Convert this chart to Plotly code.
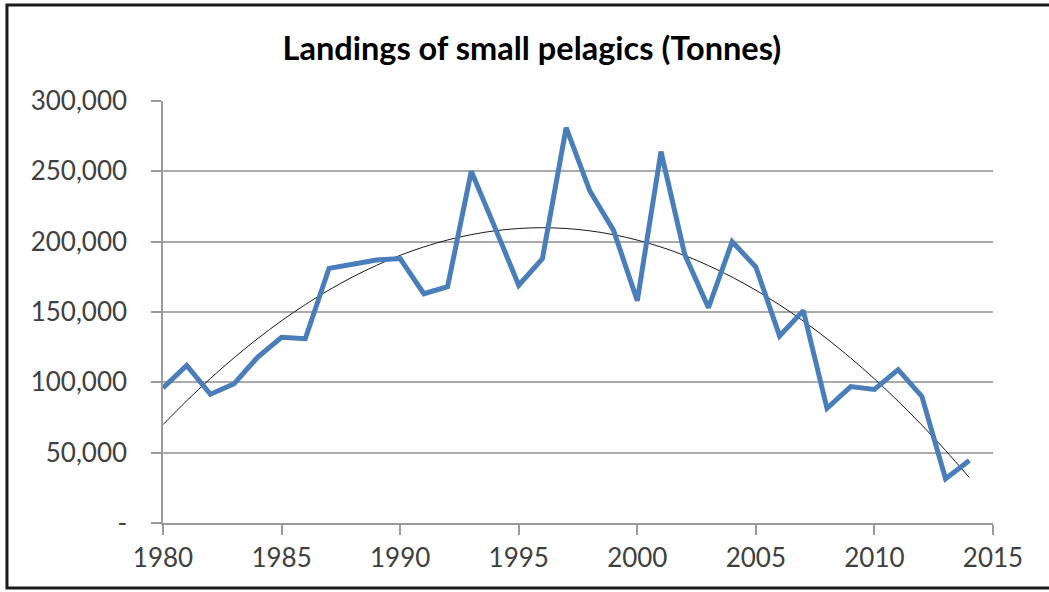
import numpy as np
import plotly.graph_objects as go

# Annual landings of small pelagics
years = list(range(1980, 2015))
landings = [
    96000, 112000, 91500, 99000, 118000, 132000, 131000, 181000, 184000, 187000,
    188000, 163000, 168000, 250000, 210000, 169000, 188000, 281000, 236000, 208000,
    158000, 264000, 191000, 153000, 200000, 182000, 133000, 151000, 81500, 97000,
    95000, 109000, 90000, 31500, 44500,
]

y_ticks = [0, 50000, 100000, 150000, 200000, 250000, 300000]
y_labels = ["-", "50,000", "100,000", "150,000", "200,000", "250,000", "300,000"]
x_ticks = [1980, 1985, 1990, 1995, 2000, 2005, 2010, 2015]

# Excel-style 2nd order polynomial trendline
coef = np.polyfit(years, landings, 2)
trend = np.polyval(coef, years)

fig = go.Figure()

fig.add_trace(go.Scatter(
    x=years, y=trend, mode="lines",
    line=dict(color="#1a1a1a", width=1, shape="spline"),
    hoverinfo="skip", showlegend=False,
))

fig.add_trace(go.Scatter(
    x=years, y=landings, mode="lines", name="Landings",
    line=dict(color="#4A7EBB", width=5),
    showlegend=False,
))

font_name = "Lato, 'Open Sans', sans-serif"

fig.update_layout(
    width=1049, height=592,
    margin=dict(l=163, r=56, t=101, b=69),
    paper_bgcolor="white",
    plot_bgcolor="white",
    font=dict(family=font_name, color="#404040", size=26),
    title=dict(
        text="<b>Landings of small pelagics (Tonnes)</b>",
        x=0.507, xanchor="center", xref="container",
        y=0.918, yanchor="middle", yref="container",
        font=dict(family=font_name, size=32.5, color="#000000"),
    ),
)

fig.update_xaxes(
    range=[1980, 2015],
    tickmode="array", tickvals=x_ticks,
    showgrid=False, zeroline=False,
    showline=True, linecolor="#9a9a9a", linewidth=1.5,
    ticks="outside", ticklen=10, tickcolor="#9a9a9a", tickwidth=1.5,
    ticklabelstandoff=1,
)

fig.update_yaxes(
    range=[0, 300000],
    tickmode="array", tickvals=y_ticks, ticktext=y_labels,
    showgrid=True, gridcolor="#aaaaaa", gridwidth=1.5,
    zeroline=False,
    showline=True, linecolor="#9a9a9a", linewidth=1.5,
    ticks="outside", ticklen=10, tickcolor="#9a9a9a", tickwidth=1.5,
    ticklabelstandoff=19,
)

# Outer chart border (left, top, bottom; right edge runs off the picture)
fig.add_shape(
    type="rect", xref="paper", yref="paper",
    x0=-0.188, x1=1.2, y0=-0.154, y1=1.2275,
    line=dict(color="#1a1a1a", width=3),
    layer="above",
)

# drop the default page margin so the figure sits at the window's corner
fig.write_html(
    "out.html",
    config={"displayModeBar": False},
    post_script="document.body.style.margin='0';",
)
